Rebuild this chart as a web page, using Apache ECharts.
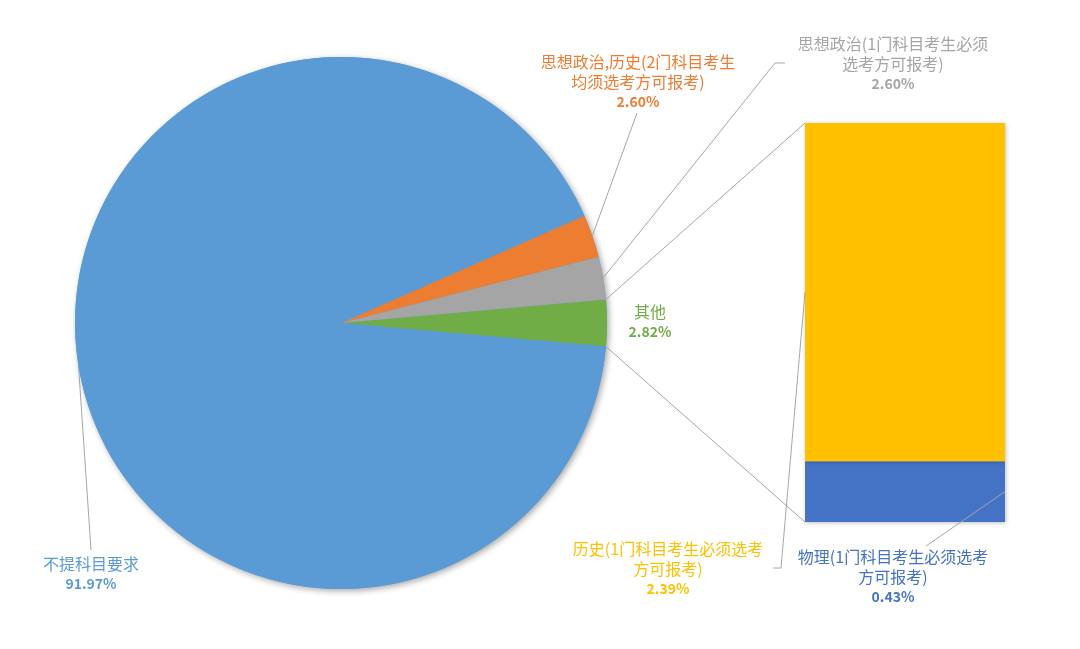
<!DOCTYPE html>
<html>
<head>
<meta charset="utf-8">
<style>
  html, body { margin: 0; padding: 0; background: #fff; }
  #main { width: 1080px; height: 649px; }
</style>
<script src="https://cdn.jsdelivr.net/npm/echarts@6/dist/echarts.min.js"></script>
</head>
<body>
<div id="main"></div>
<script>
// 复合饼图: 左边主饼, 右边"其他"拆成堆叠条
var barNames = ['物理(1门科目考生必须选考方可报考)', '历史(1门科目考生必须选考方可报考)'];
var barLabels = ['物理(1门科目考生必须选考\n方可报考)', '历史(1门科目考生必须选考\n方可报考)'];
var barValues = [0.43, 2.39];
var barColors = ['#4472C4', '#FFC000'];

var otherValue = barValues[0] + barValues[1]; // 其他 = 条形部分之和

var pieNames = ['其他', '思想政治(1门科目考生必须选考方可报考)', '思想政治,历史(2门科目考生均须选考方可报考)', '不提科目要求'];
var pieLabels = ['其他', '思想政治(1门科目考生必须\n选考方可报考)', '思想政治,历史(2门科目考生\n均须选考方可报考)', '不提科目要求'];
var pieValues = [otherValue, 2.60, 2.60, 91.97];
var pieColors = ['#70AD47', '#A5A5A5', '#ED7D31', '#5B9BD5'];

// 布局
var cx = 341, cy = 323, R = 266;
var gridLeft = 805, gridTop = 123, gridW = 200, gridH = 399;
var lineColor = '#A6A6A6';
var font = '"Noto Sans CJK SC", "Noto Sans", sans-serif';

var total = pieValues.reduce(function (a, b) { return a + b; }, 0);
var half = otherValue / total * 180; // "其他"扇区的一半角度
var startAngle = -half;

// 标签位置 (中心点) 及引导线折点
var pieLabelPos = [
  { x: 650, y: 322 },
  { x: 893, y: 64, line: [[775, 63], [785, 63]] },
  { x: 638, y: 82, line: [[637, 113]] },
  { x: 91, y: 574, line: [[91, 550]] }
];
var barLabelPos = [
  { x: 893, y: 577 },
  { x: 668, y: 569 }
];

function edgePoint(angleDeg) {
  var a = angleDeg * Math.PI / 180;
  return [cx + R * Math.cos(a), cy - R * Math.sin(a)];
}
function midAngle(i) {
  var cum = 0;
  for (var k = 0; k < i; k++) cum += pieValues[k];
  return startAngle + (cum + pieValues[i] / 2) / total * 360;
}
function richText(label, value) {
  var lines = label.split('\n').map(function (s) { return '{n|' + s + '}'; });
  return lines.join('\n') + '\n{v|' + value.toFixed(2) + '%}';
}
var rich = {
  n: { fontSize: 16, lineHeight: 20, fontFamily: font },
  v: { fontSize: 14, lineHeight: 20, fontWeight: 'bold', fontFamily: font }
};

var chart = echarts.init(document.getElementById('main'));

var option = {
  backgroundColor: '#fff',
  animation: false,
  grid: { left: gridLeft, top: gridTop, width: gridW, height: gridH },
  xAxis: { type: 'category', data: ['其他'], show: false },
  yAxis: { type: 'value', min: 0, max: otherValue, show: false },
  series: [
    {
      // 阴影底
      type: 'pie',
      silent: true,
      center: [cx, cy],
      radius: R,
      z: 1,
      label: { show: false },
      labelLine: { show: false },
      itemStyle: {
        color: '#5B9BD5',
        shadowBlur: 6,
        shadowOffsetX: 2,
        shadowOffsetY: 2,
        shadowColor: 'rgba(0,0,0,0.35)'
      },
      data: [{ value: 1, name: '' }]
    },
    {
      type: 'pie',
      center: [cx, cy],
      radius: R,
      z: 2,
      startAngle: startAngle,
      clockwise: false,
      avoidLabelOverlap: false,
      data: pieNames.map(function (n, i) {
        return {
          name: n,
          value: pieValues[i],
          itemStyle: { color: pieColors[i] },
          label: { color: pieColors[i] },
          labelLine: { show: i !== 0 }
        };
      }),
      label: {
        show: true,
        position: 'outside',
        formatter: function (p) { return richText(pieLabels[p.dataIndex], p.value); },
        rich: rich
      },
      labelLine: { show: true, lineStyle: { color: lineColor, width: 1 } },
      labelLayout: function (p) {
        var pos = pieLabelPos[p.dataIndex];
        var out = { x: pos.x, y: pos.y, align: 'center', verticalAlign: 'middle' };
        if (pos.line) {
          out.labelLinePoints = [edgePoint(midAngle(p.dataIndex))].concat(pos.line);
        }
        return out;
      }
    }
  ].concat(barNames.map(function (n, i) {
    return {
      type: 'bar',
      name: n,
      stack: 'other',
      barWidth: '100%',
      data: [barValues[i]],
      itemStyle: {
        color: barColors[i],
        shadowBlur: 4,
        shadowOffsetX: 1,
        shadowOffsetY: 1,
        shadowColor: 'rgba(0,0,0,0.25)'
      },
      label: {
        show: true,
        color: barColors[i],
        formatter: function (p) { return richText(barLabels[i], p.value); },
        rich: rich
      },
      labelLayout: function () {
        var pos = barLabelPos[i];
        return { x: pos.x, y: pos.y, align: 'center', verticalAlign: 'middle' };
      }
    };
  }))
};

chart.setOption(option);

// 连接线: 饼图"其他"扇区边缘 -> 条形图上下角; 条形标签引导线
var yTop = chart.convertToPixel({ yAxisIndex: 0 }, otherValue);
var yBot = chart.convertToPixel({ yAxisIndex: 0 }, 0);
var ySplit = chart.convertToPixel({ yAxisIndex: 0 }, barValues[0]);
var pTop = edgePoint(half), pBot = edgePoint(-half);
var lineStyle = { stroke: lineColor, lineWidth: 1 };

chart.setOption({
  graphic: [
    { type: 'line', z: 5, shape: { x1: pTop[0], y1: pTop[1], x2: gridLeft, y2: yTop }, style: lineStyle },
    { type: 'line', z: 5, shape: { x1: pBot[0], y1: pBot[1], x2: gridLeft, y2: yBot }, style: lineStyle },
    { type: 'polyline', z: 5, shape: { points: [[gridLeft, (yTop + ySplit) / 2], [781, 568], [773, 568]] }, style: lineStyle },
    { type: 'line', z: 5, shape: { x1: gridLeft + gridW, y1: (ySplit + yBot) / 2, x2: 926, y2: 546 }, style: lineStyle }
  ]
});
</script>
</body>
</html>
